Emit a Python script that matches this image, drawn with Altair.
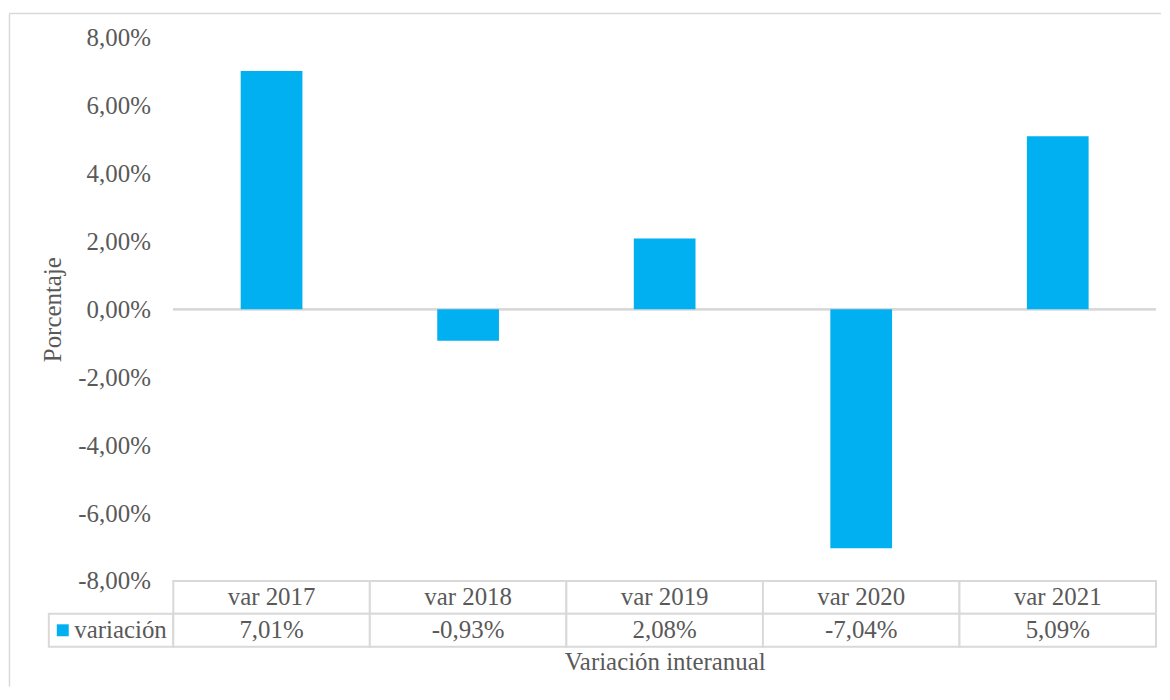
import altair as alt
import pandas as pd

categories = ["var 2017", "var 2018", "var 2019", "var 2020", "var 2021"]
values = [7.01, -0.93, 2.08, -7.04, 5.09]
value_labels = ["7,01%", "-0,93%", "2,08%", "-7,04%", "5,09%"]
y_ticks = [-8, -6, -4, -2, 0, 2, 4, 6, 8]
series_name = "variación"
y_title = "Porcentaje"
x_title = "Variación interanual"

FONT = "Liberation Serif"
GRAY = "#595959"
LINE = "#d9d9d9"
BLUE = "#00b0f0"
FS = 25

W = 987
H = 546
ROW_H = 66
LEG_W = 125

df = pd.DataFrame({"cat": categories, "val": values})
table_df = pd.DataFrame({
    "col": categories + categories,
    "row": ["h"] * len(categories) + ["v"] * len(categories),
    "text": categories + value_labels,
})
leg_df = pd.DataFrame({"c": ["leg"], "row": ["v"], "text": [series_name]})

label_expr = ("(datum.value < 0 ? '-' : '') + "
              "replace(format(abs(datum.value), '.2f'), '.', ',') + '%'")

bars = alt.Chart(df).mark_bar(color=BLUE).encode(
    x=alt.X("cat:N", sort=categories, axis=None,
            scale=alt.Scale(domain=categories, paddingInner=0.686, paddingOuter=0.343)),
    y=alt.Y("val:Q", scale=alt.Scale(domain=[-8, 8], nice=False, zero=False),
            axis=alt.Axis(values=y_ticks, labelExpr=label_expr, title=y_title,
                          grid=False, ticks=False, domain=False, labelPadding=23,
                          labelFont=FONT, labelFontSize=FS, labelColor=GRAY,
                          titleFont=FONT, titleFontSize=FS, titleColor=GRAY,
                          titleFontWeight="normal", titlePadding=12)),
)
zero = alt.Chart(df).mark_rule(color=LINE, strokeWidth=2).encode(y=alt.datum(0))
top_plot = alt.layer(zero, bars).properties(width=W, height=H)

# spacer column above the legend cell, also carrying the chart-area frame (left/top edges)
sbase = alt.Chart(leg_df)
frame_left = sbase.mark_rule(color=LINE, strokeWidth=1.5).encode(
    x=alt.value(-39.5), y=alt.value(-24), y2=alt.value(652))
frame_top = sbase.mark_rule(color=LINE, strokeWidth=1.5).encode(
    x=alt.value(-39.5), x2=alt.value(1117), y=alt.value(-24))
spacer = alt.layer(frame_left, frame_top).properties(width=LEG_W, height=H)

tbase = alt.Chart(table_df).encode(
    x=alt.X("col:N", sort=categories,
            scale=alt.Scale(domain=categories, paddingInner=0, paddingOuter=0),
            axis=alt.Axis(labels=False, ticks=False, domain=False, title=x_title,
                          titleFont=FONT, titleFontSize=FS, titleColor=GRAY,
                          titleFontWeight="normal", titlePadding=3)),
    y=alt.Y("row:N", scale=alt.Scale(domain=["h", "v"], paddingInner=0, paddingOuter=0),
            axis=None),
)
table = alt.layer(
    tbase.mark_rect(fill="white", stroke=LINE, strokeWidth=2),
    tbase.mark_text(font=FONT, fontSize=FS, color=GRAY, baseline="middle").encode(text="text:N"),
).properties(width=W, height=ROW_H)

lbase = alt.Chart(leg_df).encode(
    x=alt.X("c:N", scale=alt.Scale(domain=["leg"], paddingInner=0, paddingOuter=0), axis=None),
    y=alt.Y("row:N", scale=alt.Scale(domain=["h", "v"], paddingInner=0, paddingOuter=0),
            axis=None),
)
legend_cell = alt.layer(
    lbase.mark_rect(fill="white", stroke=LINE, strokeWidth=2),
    lbase.mark_square(color=BLUE, size=144, opacity=1, xOffset=-48.5),
    lbase.mark_text(font=FONT, fontSize=FS, color=GRAY, baseline="middle", dx=9.5).encode(text="text:N"),
).properties(width=LEG_W, height=ROW_H)

chart = alt.concat(spacer, top_plot, legend_cell, table,
                   columns=2, spacing=0, bounds="flush").properties(
    padding={"left": 0, "top": 3, "right": 0, "bottom": 0}
).configure_view(stroke=None).resolve_scale(x="independent", y="independent")

chart.save("out.html", embed_options={"renderer": "svg", "actions": False})
